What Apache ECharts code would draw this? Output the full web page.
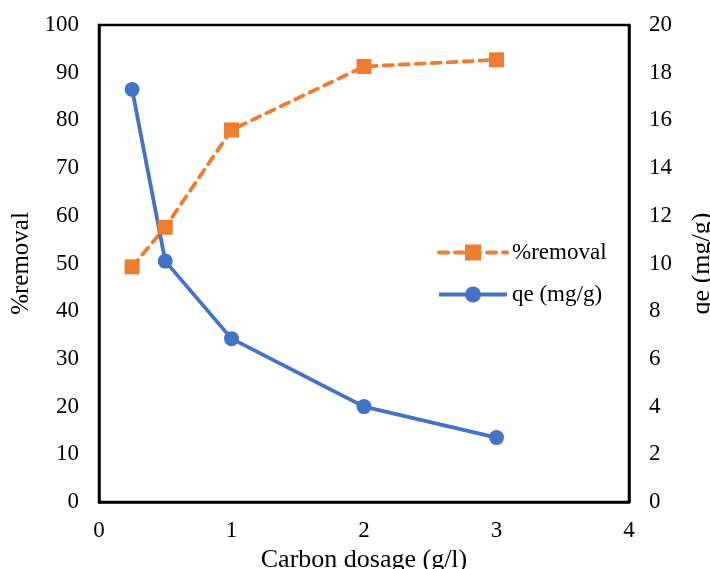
<!DOCTYPE html>
<html><head><meta charset="utf-8">
<script src="https://cdn.jsdelivr.net/npm/echarts@6/dist/echarts.min.js"></script>
<style>html,body{margin:0;padding:0;background:#fff;overflow:hidden}#c{width:710px;height:569px}</style>
</head><body><div id="c"></div>
<script>
const dosage = [0.25, 0.5, 1, 2, 3];
const removal = [49.3, 57.6, 78.0, 91.3, 92.7];
const qe = [17.3, 10.1, 6.85, 4.0, 2.7];
const xTicks = [0, 1, 2, 3, 4];
const leftTicks = [0, 10, 20, 30, 40, 50, 60, 70, 80, 90, 100];
const rightTicks = [0, 2, 4, 6, 8, 10, 12, 14, 16, 18, 20];

const font = 'Liberation Serif';
const chart = echarts.init(document.getElementById('c'));
const axisLine = {show: true, lineStyle: {color: '#000', width: 2.5}};
chart.setOption({
  animation: false,
  textStyle: {fontFamily: font},
  grid: {left: 99, right: 81, top: 25, bottom: 67, containLabel: false, outerBoundsMode: 'none', show: true, borderColor: '#000', borderWidth: 2.5, backgroundColor: 'transparent'},
  xAxis: {
    type: 'value', min: xTicks[0], max: xTicks[xTicks.length-1], interval: 1,
    axisLine: axisLine, axisTick: {show: false}, splitLine: {show: false},
    axisLabel: {fontFamily: font, fontSize: 23, color: '#000', margin: 17},
    name: 'Carbon dosage (g/l)', nameLocation: 'middle', nameGap: 42,
    nameTextStyle: {fontFamily: font, fontSize: 26, color: '#000'}
  },
  yAxis: [{
    type: 'value', min: leftTicks[0], max: leftTicks[leftTicks.length-1], interval: 10,
    axisLine: axisLine, axisTick: {show: false}, splitLine: {show: false},
    axisLabel: {fontFamily: font, fontSize: 23, color: '#000', margin: 20},
    name: '%removal', nameLocation: 'middle', nameGap: 62, nameRotate: 90,
    nameTextStyle: {fontFamily: font, fontSize: 25, color: '#000'}
  }, {
    type: 'value', position: 'right', min: rightTicks[0], max: rightTicks[rightTicks.length-1], interval: 2,
    axisLine: axisLine, axisTick: {show: false}, splitLine: {show: false},
    axisLabel: {fontFamily: font, fontSize: 23, color: '#000', margin: 20},
    name: 'qe (mg/g)', nameLocation: 'middle', nameGap: 60, nameRotate: 90,
    nameTextStyle: {fontFamily: font, fontSize: 26, color: '#000'}
  }],
  legend: {
    orient: 'vertical', left: 432, top: 236, itemGap: 19,
    itemWidth: 68, itemHeight: 20,
    textStyle: {fontFamily: font, fontSize: 23, color: '#000'},
    lineStyle: {width: 4},
    data: ['%removal', 'qe (mg/g)']
  },
  series: [{
    name: '%removal', type: 'line', yAxisIndex: 0,
    data: dosage.map((d, i) => [d, removal[i]]),
    symbol: 'rect', symbolSize: 15,
    lineStyle: {color: '#ED7D31', width: 3.8, type: [9, 7], cap: 'round'},
    itemStyle: {color: '#ED7D31'}
  }, {
    name: 'qe (mg/g)', type: 'line', yAxisIndex: 1,
    data: dosage.map((d, i) => [d, qe[i]]),
    symbol: 'circle', symbolSize: 15,
    lineStyle: {color: '#4472C4', width: 3.8},
    itemStyle: {color: '#4472C4'}
  }]
});
</script></body></html>
